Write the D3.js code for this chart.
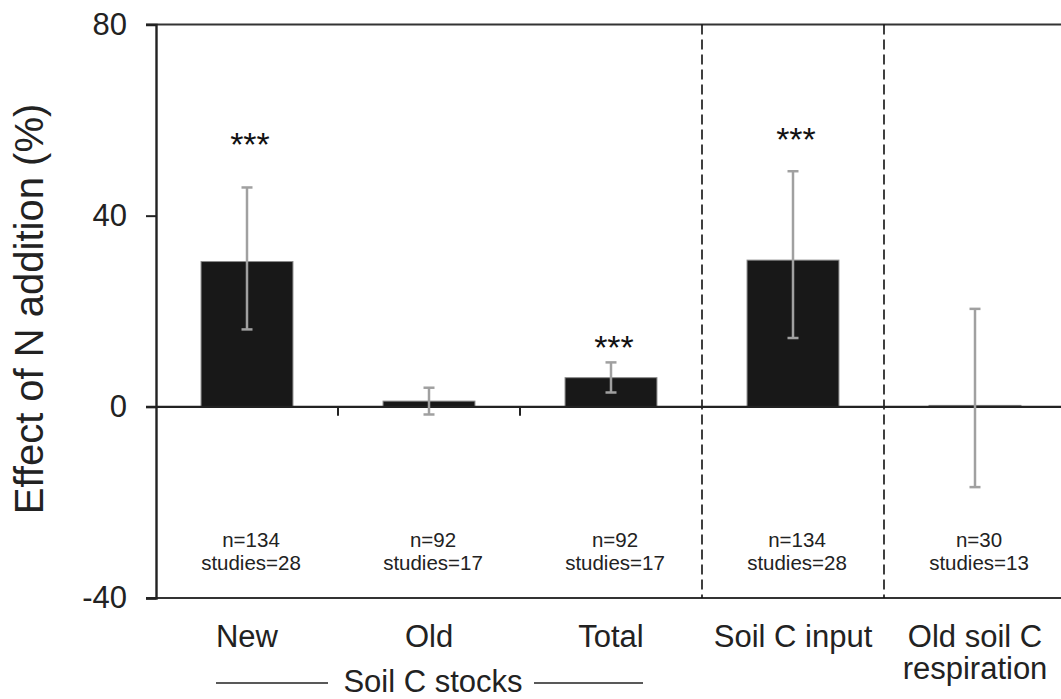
<!DOCTYPE html>
<html>
<head>
<meta charset="utf-8">
<script src="https://cdn.jsdelivr.net/npm/d3@7"></script>
<style>
  body { margin: 0; background: #fff; }
  text { font-family: "Liberation Sans", Arial, sans-serif; }
</style>
</head>
<body>
<div id="chart"></div>
<script>
// data
var categories = ["New", "Old", "Total", "Soil C input", "Old soil C respiration"];
var effects = [30.4, 1.2, 6.1, 30.7, 0.3];
var ciLow = [16.2, -1.6, 3.0, 14.4, -16.8];
var ciHigh = [45.9, 4.0, 9.3, 49.3, 20.5];
var stars = ["***", "", "***", "***", ""];
var starAt = [56.4, 0, 13.9, 57.6, 0];   // centre of the stars, in % units
var nObs = [134, 92, 92, 134, 30];
var nStudies = [28, 17, 17, 28, 13];
var yTicks = [-40, 0, 40, 80];

var width = 1061, height = 699;
var mLeft = 156, mRight = 1066, mTop = 24.5, mBottom = 598;

var svg = d3.select("#chart").append("svg")
    .attr("width", width).attr("height", height);

var x = d3.scaleBand().domain(categories).range([mLeft, mRight]);
var y = d3.scaleLinear().domain([-40, 80]).range([mBottom, mTop]);
var barW = x.bandwidth() * 0.505;
var cx = function (d) { return x(d) + x.bandwidth() / 2; };

// frame: top and bottom lines
[80, -40].forEach(function (v) {
    svg.append("line").attr("x1", mLeft - 10).attr("x2", width).attr("y1", y(v)).attr("y2", y(v))
        .attr("stroke", "#333").attr("stroke-width", 2);
});

// y axis
var yAxis = svg.append("g").attr("transform", "translate(" + mLeft + ",0)")
    .call(d3.axisLeft(y).tickValues(yTicks).tickSize(10).tickPadding(19)
        .tickFormat(function (d) { return String(d); }));
yAxis.select(".domain").attr("stroke", "#222").attr("stroke-width", 2.4);
yAxis.selectAll(".tick line").attr("stroke", "#222").attr("stroke-width", 2);
yAxis.selectAll(".tick text").attr("font-family", "Liberation Sans, Arial, sans-serif")
    .attr("font-size", 31).attr("fill", "#222");

svg.append("text")
    .attr("transform", "translate(43,309) rotate(-90)")
    .attr("text-anchor", "middle")
    .attr("font-size", 40).attr("fill", "#222")
    .text("Effect of N addition (%)");

// dashed separators
[categories[3], categories[4]].forEach(function (c) {
    svg.append("line").attr("x1", x(c)).attr("x2", x(c)).attr("y1", y(80)).attr("y2", y(-40))
        .attr("stroke", "#111").attr("stroke-width", 1.6).attr("stroke-dasharray", "10,5");
});

// bars
svg.selectAll("rect.bar").data(categories).enter().append("rect")
    .attr("class", "bar")
    .attr("x", function (d) { return cx(d) - barW / 2; })
    .attr("width", barW)
    .attr("y", function (d, i) { return y(Math.max(0, effects[i])); })
    .attr("height", function (d, i) { return Math.abs(y(effects[i]) - y(0)); })
    .attr("fill", "#181818").attr("stroke", "#8a8a8a").attr("stroke-width", 1);

// zero line with ticks
svg.append("line").attr("x1", mLeft - 10).attr("x2", width).attr("y1", y(0)).attr("y2", y(0))
    .attr("stroke", "#222").attr("stroke-width", 2.4);
[categories[1], categories[2]].forEach(function (c) {
    svg.append("line").attr("x1", x(c)).attr("x2", x(c)).attr("y1", y(0)).attr("y2", y(0) + 9)
        .attr("stroke", "#222").attr("stroke-width", 2);
});

// error bars
var eb = svg.selectAll("g.err").data(categories).enter().append("g").attr("class", "err")
    .attr("stroke", "#a0a0a0").attr("stroke-width", 2.5);
eb.append("line")
    .attr("x1", cx).attr("x2", cx)
    .attr("y1", function (d, i) { return y(ciLow[i]); })
    .attr("y2", function (d, i) { return y(ciHigh[i]); });
[ciLow, ciHigh].forEach(function (arr) {
    eb.append("line")
        .attr("x1", function (d) { return cx(d) - 5.5; })
        .attr("x2", function (d) { return cx(d) + 5.5; })
        .attr("y1", function (d, i) { return y(arr[i]); })
        .attr("y2", function (d, i) { return y(arr[i]); });
});

// significance stars
svg.selectAll("text.star").data(categories).enter().append("text")
    .attr("class", "star")
    .attr("x", function (d) { return cx(d) + 3; })
    .attr("y", function (d, i) { return y(starAt[i]) + 19; })
    .attr("text-anchor", "middle")
    .attr("font-size", 34).attr("fill", "#111")
    .text(function (d, i) { return stars[i]; });

// sample sizes
var ns = svg.selectAll("g.n").data(categories).enter().append("g")
    .attr("font-size", 20.5).attr("fill", "#222").attr("text-anchor", "middle");
ns.append("text")
    .attr("x", function (d) { return cx(d) + 4; })
    .attr("y", 547)
    .text(function (d, i) { return "n=" + nObs[i]; });
ns.append("text")
    .attr("x", function (d) { return cx(d) + 4; })
    .attr("y", 570)
    .text(function (d, i) { return "studies=" + nStudies[i]; });

// category labels
var catLines = [["New"], ["Old"], ["Total"], ["Soil C input"], ["Old soil C", "respiration"]];
categories.forEach(function (c, i) {
    var t = svg.append("text")
        .attr("x", cx(c))
        .attr("y", 647)
        .attr("text-anchor", "middle")
        .attr("font-size", 31).attr("fill", "#222");
    catLines[i].forEach(function (s, j) {
        t.append("tspan").attr("x", cx(c)).attr("dy", j === 0 ? 0 : 32).text(s);
    });
});

// group label
svg.append("text")
    .attr("x", cx(categories[1]) + 4).attr("y", 692)
    .attr("text-anchor", "middle").attr("font-size", 31).attr("fill", "#222")
    .text("Soil C stocks");
svg.append("line").attr("x1", 216).attr("x2", 328).attr("y1", 683).attr("y2", 683)
    .attr("stroke", "#222").attr("stroke-width", 1.5);
svg.append("line").attr("x1", 534).attr("x2", 643).attr("y1", 683).attr("y2", 683)
    .attr("stroke", "#222").attr("stroke-width", 1.5);
</script>
</body>
</html>
